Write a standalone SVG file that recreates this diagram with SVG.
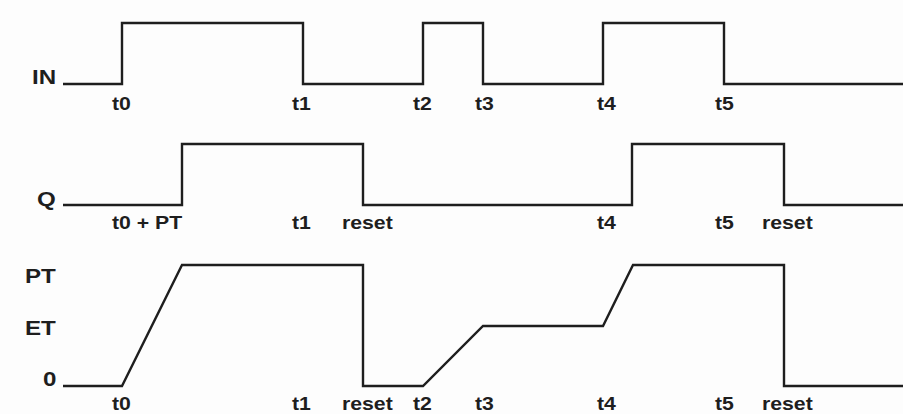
<svg xmlns="http://www.w3.org/2000/svg" width="903" height="414" viewBox="0 0 903 414">
<style>
.sig{fill:none;stroke:#1e1e1e;stroke-width:2.4;stroke-linejoin:miter;stroke-linecap:butt}
.lab{font-family:"Liberation Sans",Arial,sans-serif;font-weight:bold;font-size:21px;fill:#1e1e1e}
.t{font-family:"Liberation Sans",Arial,sans-serif;font-weight:bold;font-size:18px;fill:#1e1e1e}
</style>
<rect width="903" height="414" fill="#fdfdfd"/>
<g id="labels">
<text class="lab" transform="translate(32,84) scale(1.15,1)">IN</text>
<text class="lab" transform="translate(37,206) scale(1.15,1)">Q</text>
<text class="lab" transform="translate(25,283) scale(1.15,1)">PT</text>
<text class="lab" transform="translate(25,335) scale(1.15,1)">ET</text>
<text class="lab" transform="translate(43,386) scale(1.15,1)">0</text>
</g>
<g id="signals">
<polyline id="sig-in" class="sig" points="63,84 122,84 122,23 303,23 303,84 423,84 423,23 483,23 483,84 603,84 603,23 724,23 724,84 903,84"/>
<polyline id="sig-q" class="sig" points="63,205 182,205 182,144 363,144 363,205 632,205 632,144 784,144 784,205 903,205"/>
<polyline id="sig-et" class="sig" points="63,386 122,386 182,265 363,265 363,386 423,386 483,326 603,326 633,265 784,265 784,386 903,386"/>
</g>
<g id="row1">
<text class="t" transform="translate(112,110) scale(1.18,1)">t0</text>
<text class="t" transform="translate(292,110) scale(1.18,1)">t1</text>
<text class="t" transform="translate(413,110) scale(1.18,1)">t2</text>
<text class="t" transform="translate(475,110) scale(1.18,1)">t3</text>
<text class="t" transform="translate(597,110) scale(1.18,1)">t4</text>
<text class="t" transform="translate(715,110) scale(1.18,1)">t5</text>
</g>
<g id="row2">
<text class="t" transform="translate(112,229) scale(1.18,1)">t0 + PT</text>
<text class="t" transform="translate(292,229) scale(1.18,1)">t1</text>
<text class="t" transform="translate(342,229) scale(1.18,1)">reset</text>
<text class="t" transform="translate(597,229) scale(1.18,1)">t4</text>
<text class="t" transform="translate(715,229) scale(1.18,1)">t5</text>
<text class="t" transform="translate(762,229) scale(1.18,1)">reset</text>
</g>
<g id="row3">
<text class="t" transform="translate(112,410) scale(1.18,1)">t0</text>
<text class="t" transform="translate(292,410) scale(1.18,1)">t1</text>
<text class="t" transform="translate(342,410) scale(1.18,1)">reset</text>
<text class="t" transform="translate(413,410) scale(1.18,1)">t2</text>
<text class="t" transform="translate(475,410) scale(1.18,1)">t3</text>
<text class="t" transform="translate(597,410) scale(1.18,1)">t4</text>
<text class="t" transform="translate(715,410) scale(1.18,1)">t5</text>
<text class="t" transform="translate(762,410) scale(1.18,1)">reset</text>
</g>
</svg>
